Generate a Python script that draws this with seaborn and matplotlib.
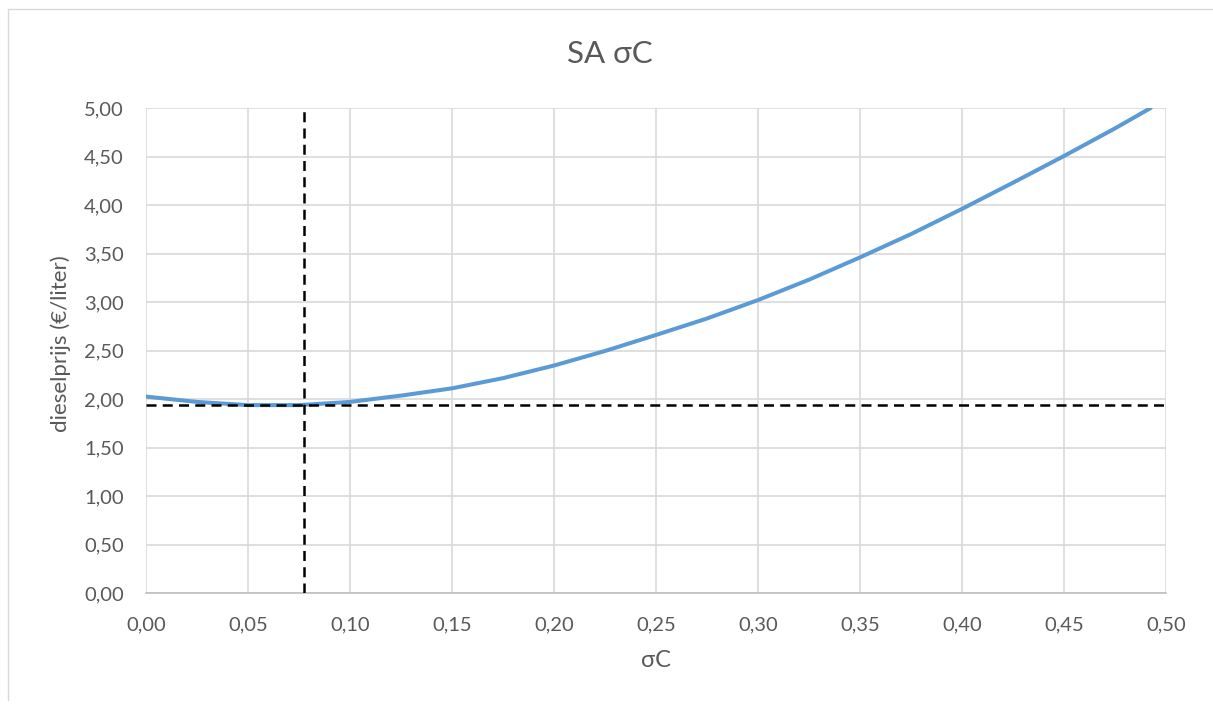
import matplotlib
matplotlib.use("Agg")
import matplotlib.pyplot as plt
import seaborn as sns
import pandas as pd
from matplotlib.ticker import FuncFormatter, MultipleLocator
from matplotlib.lines import Line2D

sigma_c = [0.00, 0.025, 0.05, 0.075, 0.10, 0.125, 0.15, 0.175, 0.20, 0.225,
           0.25, 0.275, 0.30, 0.325, 0.35, 0.375, 0.40, 0.425, 0.45, 0.475, 0.4925]
diesel_price = [2.025, 1.97, 1.937, 1.937, 1.97, 2.035, 2.11, 2.215, 2.345, 2.495,
                2.66, 2.83, 3.02, 3.23, 3.46, 3.70, 3.96, 4.23, 4.505, 4.79, 5.00]
optimum_sigma = 0.0776
optimum_price = 1.938

title = "SA σC"
xlabel = "σC"
ylabel = "dieselprijs (€/liter)"

sns.set_theme(style="whitegrid")
plt.rcParams['font.family'] = ['Lato', 'DejaVu Sans']

fig = plt.figure(figsize=(12.13, 7.06), dpi=100)
ax = fig.add_axes([146/1213, 1-593/706, 1020/1213, 485/706])

df = pd.DataFrame({"sigma": sigma_c, "price": diesel_price})
sns.lineplot(data=df, x="sigma", y="price", ax=ax, color="#5B9BD5", linewidth=2.9, zorder=3)

ax.axvline(optimum_sigma, color="black", linestyle=(0, (4, 2.5)), linewidth=1.8, zorder=4)
ax.axhline(optimum_price, color="black", linestyle=(0, (4, 2.5)), linewidth=1.8, zorder=4)

ax.set_xlim(0, 0.5)
ax.set_ylim(0, 5.0)
ax.xaxis.set_major_locator(MultipleLocator(0.05))
ax.yaxis.set_major_locator(MultipleLocator(0.5))
fmt = FuncFormatter(lambda v, p: f"{v:.2f}".replace(".", ","))
ax.xaxis.set_major_formatter(fmt)
ax.yaxis.set_major_formatter(fmt)

ax.grid(True, color="#d9d9d9", linewidth=1.2)
ax.set_facecolor("white")
for s in ["top", "right", "left"]:
    ax.spines[s].set_visible(False)
ax.spines["bottom"].set_color("#bfbfbf")
ax.spines["bottom"].set_linewidth(1.2)
ax.tick_params(axis="both", length=0, labelsize=14.5, colors="#595959")
ax.tick_params(axis="y", pad=16)
ax.tick_params(axis="x", pad=17)

ax.set_xlabel(xlabel, fontsize=17, color="#595959")
ax.set_ylabel(ylabel, fontsize=16, color="#595959")
ax.xaxis.set_label_coords(0.5, -0.118)
ax.yaxis.set_label_coords(-0.074, 0.515)
fig.text(610/1213, 1-54/706, title, ha="center", va="center", fontsize=22.5, color="#595959")

# outer chart frame (top and left edges visible)
fig.add_artist(Line2D([8/1213, 1.0], [1-9/706, 1-9/706], transform=fig.transFigure, color="#d9d9d9", linewidth=1))
fig.add_artist(Line2D([8/1213, 8/1213], [1-9/706, 1-700/706], transform=fig.transFigure, color="#d9d9d9", linewidth=1))

fig.savefig("out.png", dpi=100, facecolor="white")
